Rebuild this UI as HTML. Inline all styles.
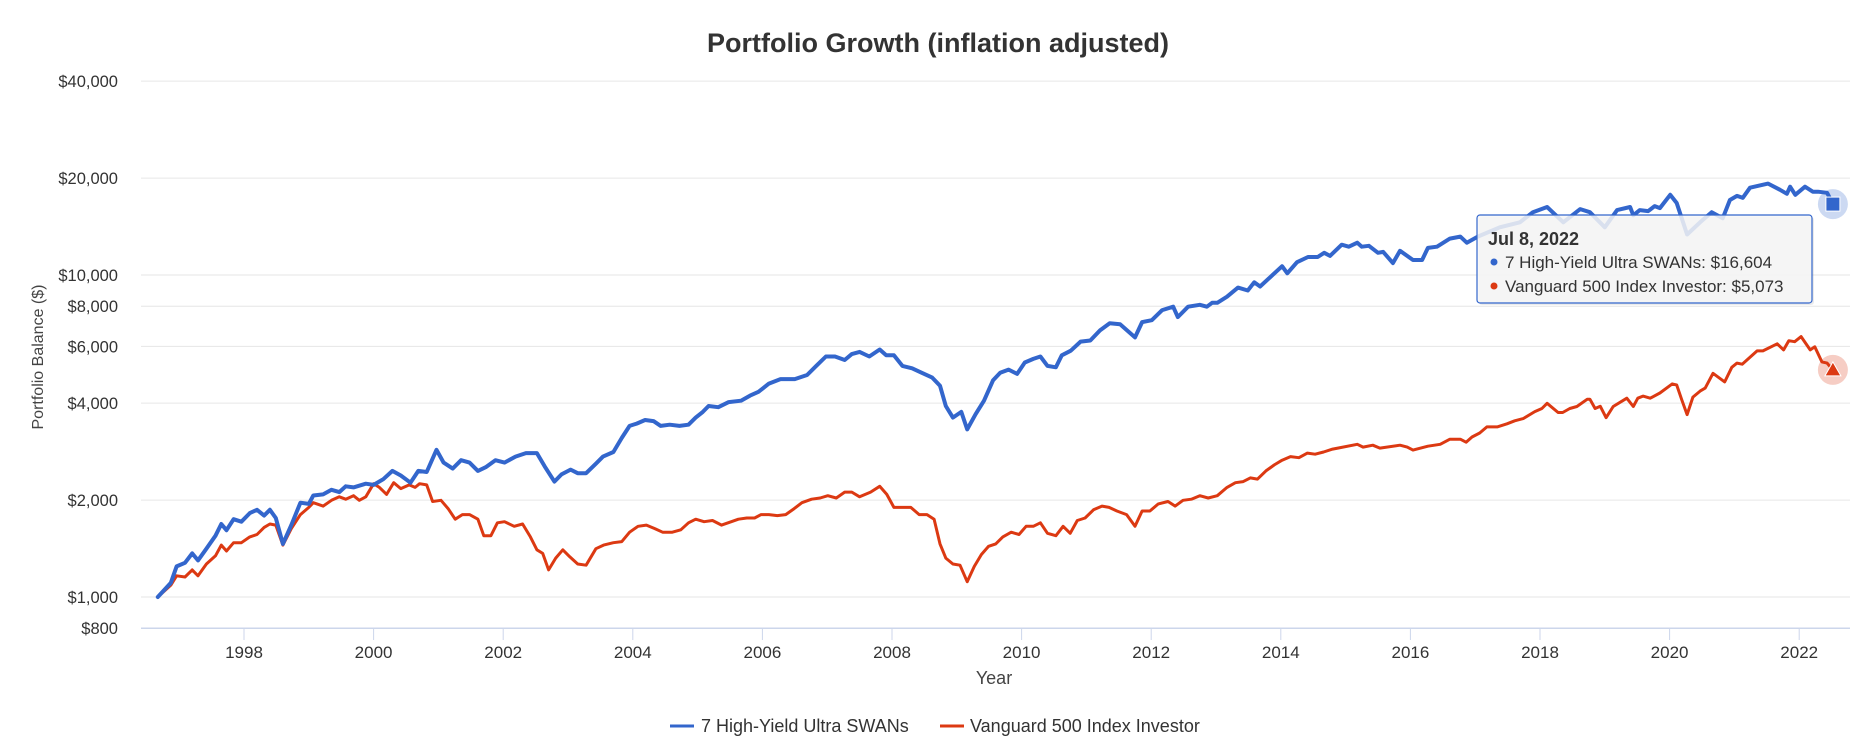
<!DOCTYPE html>
<html>
<head>
<meta charset="utf-8">
<style>
  html,body{margin:0;padding:0;background:#fff;}
  svg{display:block;font-family:"Liberation Sans",Arial,sans-serif;}
</style>
</head>
<body>
<svg id="chart" width="1850" height="741" viewBox="0 0 1850 741" xmlns="http://www.w3.org/2000/svg">
  <rect x="0" y="0" width="1850" height="741" fill="#ffffff"/>
  <text x="938" y="52" text-anchor="middle" font-size="27" font-weight="bold" fill="#333333">Portfolio Growth (inflation adjusted)</text>
  <g id="grid"></g>
  <g id="yticks"></g>
  <g id="xticks"></g>
  <text x="0" y="0" transform="translate(43,357) rotate(-90)" text-anchor="middle" font-size="16" fill="#444444">Portfolio Balance ($)</text>
  <text x="994" y="684" text-anchor="middle" font-size="18" fill="#444444">Year</text>
  <g id="series"></g>
  <g id="markers"></g>
  <g id="tooltip">
    <rect x="1479" y="217" width="335" height="88" rx="3" fill="#000" opacity="0.08"/>
    <rect x="1477" y="215" width="335" height="88" rx="3" fill="#f7f7f7" fill-opacity="0.85" stroke="#3366cc" stroke-width="1.2"/>
    <text x="1488" y="245" font-size="18" font-weight="bold" fill="#333333">Jul 8, 2022</text>
    <circle cx="1494" cy="262" r="3.5" fill="#3366cc"/>
    <text x="1505" y="268" font-size="17" fill="#333333">7 High-Yield Ultra SWANs: $16,604</text>
    <circle cx="1494" cy="286" r="3.5" fill="#dc3912"/>
    <text x="1505" y="292" font-size="17" fill="#333333">Vanguard 500 Index Investor: $5,073</text>
  </g>
  <g>
    <g>
      <line x1="670" y1="726" x2="694" y2="726" stroke="#3366cc" stroke-width="3"/>
      <text x="701" y="732" font-size="18" fill="#333333">7 High-Yield Ultra SWANs</text>
    </g>
    <g>
      <line x1="940" y1="726" x2="964" y2="726" stroke="#dc3912" stroke-width="3"/>
      <text x="970" y="732" font-size="18" fill="#333333">Vanguard 500 Index Investor</text>
    </g>
  </g>
</svg>
<script>
const yTickValues = [800, 1000, 2000, 4000, 6000, 8000, 10000, 20000, 40000];
const yTickLabels = ["$800", "$1,000", "$2,000", "$4,000", "$6,000", "$8,000", "$10,000", "$20,000", "$40,000"];
const xTickYears = [1998, 2000, 2002, 2004, 2006, 2008, 2010, 2012, 2014, 2016, 2018, 2020, 2022];
const xTickLabels = ["1998", "2000", "2002", "2004", "2006", "2008", "2010", "2012", "2014", "2016", "2018", "2020", "2022"];
const seriesNames = ["7 High-Yield Ultra SWANs", "Vanguard 500 Index Investor"];
const hoverDate = 2022.52;
const hoverValues = [16604, 5073];

const bluePoints = [
[1996.67,1000],[1996.87,1106],[1996.96,1245],[1997.09,1277],[1997.20,1366],[1997.29,1299],[1997.42,1413],[1997.56,1550],[1997.65,1686],[1997.73,1612],
[1997.84,1744],[1997.96,1713],[1998.09,1822],[1998.20,1866],[1998.31,1790],[1998.40,1866],[1998.49,1759],[1998.60,1462],[1998.73,1672],[1998.87,1963],
[1999.00,1946],[1999.07,2067],[1999.22,2083],[1999.35,2153],[1999.47,2118],[1999.57,2207],[1999.69,2189],[1999.88,2248],[2000.00,2229],[2000.15,2322],
[2000.29,2464],[2000.42,2384],[2000.57,2265],[2000.69,2464],[2000.82,2444],[2000.97,2866],[2001.08,2614],[2001.22,2505],[2001.35,2659],[2001.48,2614],
[2001.61,2464],[2001.73,2530],[2001.88,2659],[2002.02,2614],[2002.19,2729],[2002.35,2799],[2002.52,2799],[2002.64,2544],[2002.79,2283],[2002.90,2403],
[2003.04,2486],[2003.15,2423],[2003.28,2423],[2003.43,2594],[2003.54,2729],[2003.70,2820],[2003.83,3120],[2003.95,3398],[2004.06,3456],[2004.19,3546],
[2004.32,3517],[2004.43,3398],[2004.57,3428],[2004.72,3398],[2004.86,3428],[2004.97,3606],[2005.08,3757],[2005.17,3920],[2005.32,3885],[2005.48,4031],
[2005.67,4069],[2005.81,4223],[2005.94,4338],[2006.10,4601],[2006.28,4750],[2006.50,4750],[2006.69,4890],[2006.83,5220],[2006.98,5585],[2007.12,5585],
[2007.27,5447],[2007.38,5680],[2007.50,5772],[2007.65,5585],[2007.81,5869],[2007.91,5632],[2008.03,5632],[2008.16,5220],[2008.31,5131],[2008.43,5000],
[2008.62,4800],[2008.74,4530],[2008.83,3920],[2008.94,3606],[2009.07,3757],[2009.16,3315],[2009.29,3695],[2009.42,4069],[2009.56,4714],[2009.67,4970],
[2009.80,5085],[2009.93,4930],[2010.05,5350],[2010.18,5490],[2010.29,5585],[2010.40,5220],[2010.53,5170],[2010.62,5632],[2010.76,5820],[2010.91,6212],
[2011.06,6259],[2011.21,6730],[2011.36,7080],[2011.52,7030],[2011.75,6400],[2011.86,7140],[2012.01,7240],[2012.17,7780],[2012.34,7970],[2012.41,7400],
[2012.57,7970],[2012.75,8080],[2012.86,7970],[2012.94,8200],[2013.02,8200],[2013.17,8560],[2013.34,9140],[2013.49,8950],[2013.59,9490],[2013.68,9210],
[2014.02,10650],[2014.10,10120],[2014.25,10960],[2014.42,11370],[2014.57,11370],[2014.67,11720],[2014.76,11460],[2014.94,12420],[2015.05,12240],[2015.18,12600],
[2015.25,12240],[2015.36,12320],[2015.50,11720],[2015.58,11800],[2015.73,10890],[2015.84,11890],[2016.04,11130],[2016.18,11130],[2016.27,12140],[2016.41,12240],
[2016.61,12970],[2016.77,13160],[2016.87,12600],[2017.04,13160],[2017.38,14060],[2017.69,14580],[2017.89,15670],[2018.11,16260],[2018.36,14580],[2018.62,16020],
[2018.77,15670],[2019.00,14060],[2019.19,15910],[2019.39,16260],[2019.44,15330],[2019.54,15910],[2019.67,15790],[2019.77,16370],[2019.85,16130],[2020.01,17750],
[2020.11,16740],[2020.27,13360],[2020.47,14580],[2020.65,15670],[2020.82,15000],[2020.93,17100],[2021.04,17610],[2021.13,17370],[2021.24,18670],[2021.52,19230],
[2021.70,18400],[2021.81,17870],[2021.86,18800],[2021.94,17750],[2022.09,18800],[2022.21,18140],[2022.29,18140],[2022.43,18000],[2022.52,16604]
];

const redPoints = [
[1996.67,1000],[1996.87,1088],[1996.96,1164],[1997.09,1154],[1997.20,1214],[1997.29,1164],[1997.42,1266],[1997.56,1343],[1997.65,1449],[1997.73,1389],
[1997.84,1474],[1997.96,1474],[1998.09,1537],[1998.20,1563],[1998.31,1645],[1998.40,1686],[1998.49,1672],[1998.60,1449],[1998.73,1631],[1998.87,1803],
[1999.00,1898],[1999.07,1963],[1999.22,1915],[1999.35,1996],[1999.47,2047],[1999.57,2013],[1999.69,2064],[1999.78,1996],[1999.88,2047],[2000.00,2248],
[2000.09,2189],[2000.20,2083],[2000.31,2265],[2000.42,2171],[2000.55,2229],[2000.64,2189],[2000.71,2248],[2000.82,2229],[2000.91,1980],[2001.04,1996],
[2001.15,1882],[2001.26,1744],[2001.37,1803],[2001.48,1803],[2001.61,1744],[2001.70,1550],[2001.81,1550],[2001.91,1700],[2002.02,1713],[2002.17,1658],
[2002.30,1686],[2002.42,1537],[2002.52,1401],[2002.61,1366],[2002.70,1214],[2002.81,1321],[2002.92,1401],[2003.03,1332],[2003.15,1266],[2003.28,1255],
[2003.43,1413],[2003.55,1449],[2003.70,1474],[2003.83,1486],[2003.95,1590],[2004.08,1658],[2004.21,1672],[2004.34,1631],[2004.46,1590],[2004.61,1590],
[2004.74,1617],[2004.86,1700],[2004.97,1744],[2005.10,1713],[2005.23,1728],[2005.37,1672],[2005.52,1713],[2005.63,1744],[2005.76,1759],[2005.88,1759],
[2005.98,1803],[2006.10,1803],[2006.23,1790],[2006.36,1803],[2006.49,1882],[2006.61,1963],[2006.76,2013],[2006.89,2030],[2007.01,2064],[2007.14,2030],
[2007.27,2118],[2007.38,2118],[2007.50,2047],[2007.67,2118],[2007.81,2207],[2007.92,2083],[2008.03,1898],[2008.16,1898],[2008.29,1898],[2008.42,1803],
[2008.54,1803],[2008.65,1744],[2008.74,1462],[2008.83,1321],[2008.94,1266],[2009.05,1255],[2009.16,1116],[2009.27,1245],[2009.38,1355],[2009.49,1437],
[2009.60,1462],[2009.71,1537],[2009.84,1590],[2009.96,1563],[2010.07,1658],[2010.18,1658],[2010.29,1700],[2010.40,1577],[2010.53,1550],[2010.64,1658],
[2010.75,1577],[2010.86,1728],[2010.98,1759],[2011.11,1866],[2011.24,1915],[2011.35,1898],[2011.47,1850],[2011.62,1803],[2011.75,1658],[2011.86,1850],
[2011.98,1850],[2012.11,1946],[2012.26,1980],[2012.37,1915],[2012.49,1996],[2012.62,2013],[2012.75,2064],[2012.88,2030],[2013.02,2064],[2013.17,2189],
[2013.30,2265],[2013.42,2283],[2013.53,2343],[2013.64,2323],[2013.77,2464],[2013.90,2571],[2014.02,2659],[2014.15,2729],[2014.28,2707],[2014.41,2799],
[2014.53,2777],[2014.66,2820],[2014.80,2880],[2014.88,2900],[2015.18,2980],[2015.27,2920],[2015.42,2960],[2015.53,2900],[2015.84,2960],[2015.95,2920],
[2016.04,2860],[2016.27,2940],[2016.46,2980],[2016.61,3090],[2016.77,3090],[2016.86,3025],[2016.95,3140],[2017.07,3230],[2017.18,3375],[2017.34,3375],
[2017.49,3450],[2017.61,3525],[2017.74,3580],[2017.92,3765],[2018.03,3850],[2018.11,3995],[2018.28,3740],[2018.35,3740],[2018.46,3850],[2018.57,3905],
[2018.73,4115],[2018.77,4115],[2018.85,3850],[2018.93,3910],[2019.02,3605],[2019.13,3905],[2019.34,4145],[2019.44,3905],[2019.51,4145],[2019.59,4205],
[2019.70,4145],[2019.85,4300],[2020.04,4590],[2020.11,4555],[2020.19,4085],[2020.27,3685],[2020.36,4175],[2020.47,4360],[2020.55,4455],[2020.67,4950],
[2020.85,4655],[2020.96,5170],[2021.04,5325],[2021.12,5285],[2021.35,5810],[2021.44,5810],[2021.66,6115],[2021.76,5855],[2021.84,6250],[2021.93,6205],
[2022.03,6435],[2022.17,5855],[2022.24,5985],[2022.35,5370],[2022.43,5325],[2022.52,5073]
];

const NS = "http://www.w3.org/2000/svg";
const PLOT_LEFT = 141, PLOT_RIGHT = 1850;
function xScale(year) { return 244 + (year - 1998) * 64.8; }
function yScale(v) { return 597 - 322 * Math.log10(v / 1000); }
function mk(tag, attrs, parent) {
  const el = document.createElementNS(NS, tag);
  for (const k in attrs) el.setAttribute(k, attrs[k]);
  parent.appendChild(el);
  return el;
}

const grid = document.getElementById('grid');
const yticks = document.getElementById('yticks');
yTickValues.forEach((v, i) => {
  const y = yScale(v);
  const isAxis = i === 0;
  const ln = mk('line', {x1: PLOT_LEFT, x2: PLOT_RIGHT, y1: y, y2: y, stroke: isAxis ? '#ccd6eb' : '#e6e6e6', 'stroke-width': isAxis ? 1.5 : 1}, grid);
  
  
  const t = mk('text', {x: 118, y: y + 6, 'text-anchor': 'end', 'font-size': 16.5, fill: '#333333'}, yticks);
  t.textContent = yTickLabels[i];
  
  
});

const xticks = document.getElementById('xticks');
xTickYears.forEach((yr, i) => {
  const x = xScale(yr);
  const tk = mk('line', {x1: x, x2: x, y1: 629, y2: 640, stroke: '#ccd6eb', 'stroke-width': 1}, xticks);
  
  
  const t = mk('text', {x: x, y: 658, 'text-anchor': 'middle', 'font-size': 17, fill: '#333333'}, xticks);
  t.textContent = xTickLabels[i];
  
  
});

const series = document.getElementById('series');
function pathFor(pts) {
  return pts.map((p, i) => (i ? 'L' : 'M') + xScale(p[0]).toFixed(1) + ',' + yScale(p[1]).toFixed(1)).join(' ');
}
const redPath = mk('path', {d: pathFor(redPoints), fill: 'none', stroke: '#dc3912', 'stroke-width': 3, 'stroke-linejoin': 'round', 'stroke-linecap': 'round'}, series);


const bluePath = mk('path', {d: pathFor(bluePoints), fill: 'none', stroke: '#3366cc', 'stroke-width': 4, 'stroke-linejoin': 'round', 'stroke-linecap': 'round'}, series);



const markers = document.getElementById('markers');
const hx = xScale(hoverDate);
const by = yScale(hoverValues[0]);
const ry = yScale(hoverValues[1]);
const bh = mk('circle', {cx: hx, cy: by, r: 15, fill: '#3366cc', opacity: 0.25}, markers);


const bs = mk('rect', {x: hx - 7, y: by - 7, width: 14, height: 14, fill: '#3366cc', stroke: '#ffffff', 'stroke-width': 1}, markers);


const rh = mk('circle', {cx: hx, cy: ry, r: 15, fill: '#dc3912', opacity: 0.25}, markers);


const rt = mk('path', {d: 'M' + hx + ',' + (ry - 8) + ' L' + (hx + 8) + ',' + (ry + 6) + ' L' + (hx - 8) + ',' + (ry + 6) + ' Z', fill: '#dc3912', stroke: '#ffffff', 'stroke-width': 1}, markers);


</script>
</body>
</html>
